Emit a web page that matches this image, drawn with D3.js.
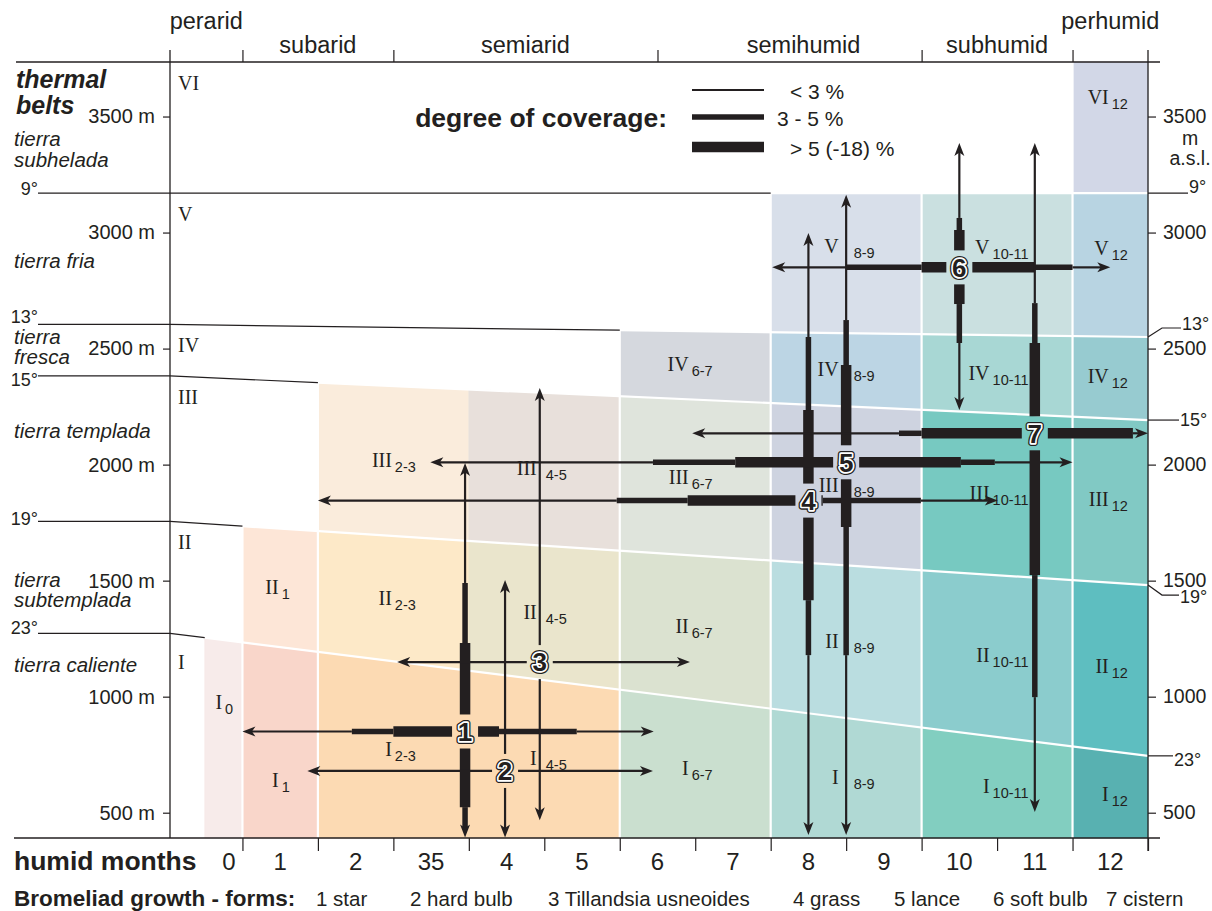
<!DOCTYPE html>
<html>
<head>
<meta charset="utf-8">
<script src="https://cdn.jsdelivr.net/npm/d3@7"></script>
<style>
  body { margin: 0; background: #fff; }
  svg { display: block; }
</style>
</head>
<body>
<div id="chart"></div>
<script>
// thermal belts x humid months, with the ranges of the bromeliad growth forms

// humid months (x)
const monthTicks = ['0', '1', '2', '35', '4', '5', '6', '7', '8', '9', '10', '11', '12'];
const humidClasses = ['perarid', 'subarid', 'semiarid', 'semihumid', 'subhumid', 'perhumid'];
const humidFrom = [-0.46, 0.5, 2.5, 6, 9.5, 11.5];
const humidTo = [0.5, 2.5, 6, 9.5, 11.5, 12.5];

// elevation (y), m a.s.l.
const elevTicks = [500, 1000, 1500, 2000, 2500, 3000, 3500];

// thermal belts, bottom to top
const belts = ['I', 'II', 'III', 'IV', 'V', 'VI'];
const beltNames = [['tierra caliente'], ['tierra', 'subtemplada'], ['tierra templada'], ['tierra', 'fresca'], ['tierra fria'], ['tierra', 'subhelada']];
const beltNameElev = [1106, 1473, 2115, 2520, 2847, 3373];

// isotherm limits between belts: elevation at left and right edge
const limitDeg = ['23°', '19°', '15°', '13°', '9°'];
const limitLeft = [1273, 1755, 2382, 2604, 3170];
const limitRight = [745, 1481, 2192, 2550, 3170];

// humid-month groups of the cells
const groups = ['0', '1', '2-3', '4-5', '6-7', '8-9', '10-11', '12'];
const groupFrom = [0, 0.5, 1.5, 3.5, 5.5, 7.5, 9.5, 11.5];
const groupTo = [0.5, 1.5, 3.5, 5.5, 7.5, 9.5, 11.5, 12.5];

// cell fill per belt (row) and group (column), null = no cell
const cellColors = [
  ['#f7ebea', '#f9d6ca', '#fcdab3', '#fcdab3', '#cadfcf', '#b0d9d4', '#82cec0', '#58b1b1'],
  [null, '#fde6d7', '#fde9c8', '#eae5cc', '#dbe2d0', '#badde0', '#8bcccd', '#5ebec0'],
  [null, null, '#faecdc', '#e8e0db', '#dfe4dc', '#ced3e0', '#77c9c1', '#81c9c4'],
  [null, null, null, null, '#d5d8de', '#bcd5e4', '#a8d7d4', '#97cbd0'],
  [null, null, null, null, null, '#d8dfea', '#cae0e0', '#b8d4e2'],
  [null, null, null, null, null, null, null, '#d2d7e7']
];

// degree of coverage classes
const coverage = ['< 3 %', '3 - 5 %', '> 5 (-18) %'];

// bromeliad growth forms
const forms = ['star', 'hard bulb', 'Tillandsia usneoides', 'grass', 'lance', 'soft bulb', 'cistern'];
const formMonth = [3.45, 3.98, 4.44, 8.0, 8.5, 10.0, 11.0];   // where the vertical range sits
const formElev = [850, 680, 1149, 1845, 2010, 2850, 2135];    // where the horizontal range sits
// [from, to, coverage class]
const formMonthRanges = [
  [[0.5, 1.95, 0], [1.95, 2.5, 1], [2.5, 3.9, 2], [3.9, 4.93, 1], [4.93, 5.95, 0]],
  [[1.36, 5.94, 0]],
  [[2.55, 6.43, 0]],
  [[1.5, 5.46, 0], [5.46, 6.4, 1], [6.4, 8.19, 2], [8.19, 9.49, 1], [9.49, 10.51, 0]],
  [[2.99, 5.94, 0], [5.94, 7.03, 1], [7.03, 10.02, 2], [10.02, 10.47, 1], [10.47, 11.5, 0]],
  [[7.52, 8.5, 0], [8.5, 9.5, 1], [9.5, 11, 2], [11, 11.5, 1], [11.5, 12, 0]],
  [[6.46, 9.2, 0], [9.2, 9.5, 1], [9.5, 12.3, 2], [12.3, 12.5, 0]]
];
const formElevRanges = [
  [[393, 524, 1], [524, 1231, 2], [1231, 1490, 1], [1490, 2007, 0]],
  [[393, 1503, 0]],
  [[468, 2330, 0]],
  [[404, 1179, 0], [1179, 1416, 1], [1416, 2235, 2], [2235, 2550, 1], [2550, 2998, 0]],
  [[404, 1179, 0], [1179, 1731, 1], [1731, 2429, 2], [2429, 2623, 1], [2623, 3163, 0]],
  [[2235, 2524, 0], [2524, 2692, 1], [2692, 3011, 2], [3011, 3063, 1], [3063, 3386, 0]],
  [[503, 998, 0], [998, 1524, 1], [1524, 2524, 2], [2524, 2696, 1], [2696, 3386, 0]]
];

const W = 1212, H = 911;
const DARK = '#231f20';
const SANS = '"Liberation Sans", Arial, sans-serif';
const SERIF = '"Liberation Serif", "Times New Roman", serif';

const svg = d3.select('#chart').append('svg').attr('width', W).attr('height', H)
  .attr('font-family', SANS);

const x = d3.scaleLinear().domain([-0.46, 12.5]).range([170, 1148]);
const y = d3.scaleLinear().domain([391, 3735]).range([838, 62]);
const [M0, M1] = x.domain();
const [E0, E1] = y.domain();

const limitAt = (k, m) => limitLeft[k] + (limitRight[k] - limitLeft[k]) * (m - M0) / (M1 - M0);
const bottomAt = (b, m) => b === 0 ? E0 : limitAt(b - 1, m);
const topAt = (b, m) => b === belts.length - 1 ? E1 : limitAt(b, m);

// ---- cells
const cells = [];
cellColors.forEach((row, b) => row.forEach((c, g) => { if (c) cells.push({ b, g, c }); }));

svg.append('g').selectAll('path').data(cells).join('path')
  .attr('d', d => {
    const m0 = groupFrom[d.g], m1 = groupTo[d.g];
    return `M${x(m0)},${y(bottomAt(d.b, m0))}L${x(m1)},${y(bottomAt(d.b, m1))}` +
      `L${x(m1)},${y(topAt(d.b, m1))}L${x(m0)},${y(topAt(d.b, m0))}Z`;
  })
  .attr('fill', d => d.c).attr('stroke', d => d.c).attr('stroke-width', 0.6);

// white separators between column groups (none between 2-3 and 4-5)
const sepG = svg.append('g').attr('stroke', '#fff').attr('stroke-width', 2.2);
groups.forEach((gname, g) => {
  if (g === 0 || groupFrom[g] === 3.5) return;
  const m = groupFrom[g];
  const nb = cellColors.filter(r => r[g]).length;
  sepG.append('line').attr('x1', x(m)).attr('x2', x(m))
    .attr('y1', y(E0)).attr('y2', y(topAt(nb - 1, m)));
});

// isotherm lines: white over the cells, black over the white part
const limG = svg.append('g').attr('fill', 'none');
const leftLabDy = [1, 4, 10, -1, 2];
limitDeg.forEach((deg, k) => {
  const start = groupFrom[cellColors[k].findIndex(c => c)];
  limG.append('line').attr('stroke', '#fff').attr('stroke-width', 2.2)
    .attr('x1', x(start)).attr('y1', y(limitAt(k, start)))
    .attr('x2', x(M1)).attr('y2', y(limitAt(k, M1)));
  limG.append('path').attr('stroke', DARK).attr('stroke-width', 1.2)
    .attr('d', `M38,${y(limitLeft[k])}H${x(M0)}L${x(start)},${y(limitAt(k, start))}`);
  svg.append('text').attr('x', 38).attr('y', y(limitLeft[k]) + leftLabDy[k])
    .attr('text-anchor', 'end').attr('font-size', 18).attr('fill', DARK).text(deg);
});

// right side isotherm leaders
const rightBend = [0, 10, 0, -9, 0];
const rightEnd = [1173, 1179, 1179, 1181, 1188];
const rightLabDy = [10, 8, 6, 2, 0];
limitDeg.forEach((deg, k) => {
  const yr = y(limitRight[k]);
  const yb = yr + rightBend[k];
  const bendX = rightBend[k] === 0 ? 1148 : 1162;
  limG.append('path').attr('stroke', DARK).attr('stroke-width', 1.2)
    .attr('d', `M1148,${yr}L${bendX},${yb}H${rightEnd[k]}`);
  svg.append('text').attr('x', rightEnd[k] + 1).attr('y', yb + rightLabDy[k])
    .attr('font-size', 18).attr('fill', DARK).text(deg);
});

// ---- axes
const axG = svg.append('g').attr('stroke', DARK).attr('stroke-width', 1.3);
axG.append('line').attr('x1', 16).attr('x2', 1160).attr('y1', y(E1)).attr('y2', y(E1));
axG.append('line').attr('x1', 14).attr('x2', 1160).attr('y1', y(E0)).attr('y2', y(E0));
axG.append('line').attr('x1', x(M0)).attr('x2', x(M0)).attr('y1', 50).attr('y2', y(E0));
axG.append('line').attr('x1', x(M1)).attr('x2', x(M1)).attr('y1', 50).attr('y2', 851);

const styleAxis = g => {
  g.select('.domain').remove();
  g.selectAll('line').attr('stroke', DARK).attr('stroke-width', 1.2);
  g.selectAll('text').attr('fill', DARK).attr('font-family', SANS);
};

svg.append('g').attr('transform', `translate(${x(M0)},0)`)
  .call(d3.axisLeft(y).tickValues(elevTicks).tickSize(7).tickPadding(8).tickFormat(d => d + ' m'))
  .call(styleAxis)
  .call(g => g.selectAll('text').attr('font-size', 20));

svg.append('g').attr('transform', `translate(${x(M1)},0)`)
  .call(d3.axisRight(y).tickValues(elevTicks).tickSize(8).tickPadding(7).tickFormat(d => d))
  .call(styleAxis)
  .call(g => g.selectAll('text').attr('font-size', 19.5));
[['m', 22], ['a.s.l.', 42]].forEach(([t, dy]) => {
  svg.append('text').attr('x', 1190).attr('y', y(3500) + 6 + dy).attr('text-anchor', 'middle')
    .attr('font-size', 19.5).attr('fill', DARK).text(t);
});

svg.append('g').attr('transform', `translate(0,${y(E0)})`)
  .call(d3.axisBottom(x).tickValues(d3.range(0.5, 13, 1)).tickSize(13).tickFormat(''))
  .call(styleAxis);

svg.append('g').attr('transform', `translate(0,${y(E1)})`)
  .call(d3.axisTop(x).tickValues(humidFrom.slice(1)).tickSize(12).tickFormat(''))
  .call(styleAxis);

// humidity classes on top
svg.append('g').attr('font-size', 23.5).attr('fill', DARK).attr('text-anchor', 'middle')
  .selectAll('text').data(humidClasses).join('text')
  .attr('x', (d, i) => x((humidFrom[i] + humidTo[i]) / 2) + (i === 3 ? 14 : 0))
  .attr('y', (d, i) => (i === 0 || i === humidClasses.length - 1) ? 29 : 53)
  .text(d => d);

// humid month labels
svg.append('text').attr('x', 14).attr('y', 870).attr('font-size', 26.5).attr('font-weight', 'bold')
  .attr('fill', DARK).text('humid months');
svg.append('g').attr('font-size', 24).attr('fill', DARK).attr('text-anchor', 'middle')
  .selectAll('text').data(monthTicks).join('text')
  .attr('x', (d, i) => x(i === 0 ? 0.32 : i)).attr('y', 870).text(d => d);

// thermal belts on the left
svg.append('g').attr('font-size', 25).attr('font-weight', 'bold').attr('font-style', 'italic').attr('fill', DARK)
  .selectAll('text').data(['thermal', 'belts']).join('text')
  .attr('x', 16).attr('y', (d, i) => 88 + i * 26).text(d => d);

const nameG = svg.append('g').attr('font-size', 20.5).attr('font-style', 'italic').attr('fill', DARK);
beltNames.forEach((lines, b) => {
  lines.forEach((t, j) => {
    nameG.append('text').attr('x', 14).attr('y', y(beltNameElev[b]) + j * 20.5).text(t);
  });
});

svg.append('g').attr('font-family', SERIF).attr('font-size', 20).attr('fill', DARK)
  .selectAll('text').data(belts).join('text')
  .attr('x', 178).attr('y', (d, b) => y(topAt(b, M0)) + (b === 0 ? 36 : 28)).text(d => d);

// cell labels: roman numeral + subscript group
const labelSplit = { '4-5': [-3, 4.5], '6-7': [-5, 1.5], '8-9': [0, 7.5], '10-11': [-6, 1.5] };
const beltDy = [6, 6, 6, 6, -10, -24];
const cellDy = { '0-0': -36, '0-1': 38 };
const cellLabG = svg.append('g').attr('fill', DARK);
cells.forEach(d => {
  const mc = (groupFrom[d.g] + groupTo[d.g]) / 2;
  const cy = (y(bottomAt(d.b, mc)) + y(topAt(d.b, mc))) / 2 + beltDy[d.b] + (cellDy[`${d.b}-${d.g}`] || 0);
  const [off, gap] = labelSplit[groups[d.g]] || [0, 1.5];
  const cx = x(mc) + off;
  cellLabG.append('text').attr('x', cx - gap).attr('y', cy).attr('text-anchor', 'end')
    .attr('font-family', SERIF).attr('font-size', 20).text(belts[d.b]);
  cellLabG.append('text').attr('x', cx + gap).attr('y', cy + 5)
    .attr('font-size', 14.5).text(groups[d.g]);
});

// ---- growth form ranges
const coverWidth = [2.2, 5.5, 10.5];
const head = 'M0,0L-13,-5L-9.5,0L-13,5Z';
const inset = 9;

const mask = svg.append('defs').append('mask').attr('id', 'gaps')
  .attr('maskUnits', 'userSpaceOnUse').attr('x', 0).attr('y', 0).attr('width', W).attr('height', H);
mask.append('rect').attr('width', W).attr('height', H).attr('fill', '#fff');
mask.selectAll('.gap').data(forms).join('rect').attr('class', 'gap')
  .attr('x', (d, i) => x(formMonth[i]) - 13).attr('y', (d, i) => y(formElev[i]) - 17)
  .attr('width', 26).attr('height', 34).attr('fill', '#000');

const arrowG = svg.append('g').attr('mask', 'url(#gaps)').attr('stroke', DARK);
const headG = svg.append('g').attr('fill', DARK);

forms.forEach((f, i) => {
  const cx = x(formMonth[i]), cy = y(formElev[i]);
  const hr = formMonthRanges[i];
  hr.forEach((s, j) => {
    let x1 = x(s[0]), x2 = x(s[1]);
    if (j === 0) x1 += inset;
    if (j === hr.length - 1) x2 -= inset;
    arrowG.append('line').attr('x1', x1).attr('x2', x2).attr('y1', cy).attr('y2', cy)
      .attr('stroke-width', coverWidth[s[2]]);
  });
  headG.append('path').attr('d', head).attr('transform', `translate(${x(hr[0][0])},${cy}) rotate(180)`);
  headG.append('path').attr('d', head).attr('transform', `translate(${x(hr[hr.length - 1][1])},${cy})`);

  const vr = formElevRanges[i];
  vr.forEach((s, j) => {
    let y1 = y(s[0]), y2 = y(s[1]);
    if (j === 0) y1 -= inset;
    if (j === vr.length - 1) y2 += inset;
    arrowG.append('line').attr('x1', cx).attr('x2', cx).attr('y1', y1).attr('y2', y2)
      .attr('stroke-width', coverWidth[s[2]]);
  });
  headG.append('path').attr('d', head).attr('transform', `translate(${cx},${y(vr[0][0])}) rotate(90)`);
  headG.append('path').attr('d', head).attr('transform', `translate(${cx},${y(vr[vr.length - 1][1])}) rotate(-90)`);
});

// numbers in the crosses
const numG = svg.append('g').attr('font-weight', 'bold').attr('font-size', 26).attr('text-anchor', 'middle');
forms.forEach((f, i) => {
  const cx = x(formMonth[i]), cy = y(formElev[i]);
  numG.append('text').attr('x', cx).attr('y', cy).attr('dy', '0.36em').text(i + 1)
    .attr('fill', DARK).attr('stroke', DARK).attr('stroke-width', 6).attr('stroke-linejoin', 'round');
  numG.append('text').attr('x', cx).attr('y', cy).attr('dy', '0.36em').text(i + 1)
    .attr('fill', DARK).attr('stroke', '#fff').attr('stroke-width', 3.4)
    .attr('stroke-linejoin', 'round').attr('paint-order', 'stroke');
});

// ---- legend: degree of coverage
svg.append('text').attr('x', 667).attr('y', 127).attr('text-anchor', 'end')
  .attr('font-size', 26.5).attr('font-weight', 'bold').attr('fill', DARK).text('degree of coverage:');
const legY = [90, 117, 147];
const legTextX = [790, 777, 790];
coverage.forEach((c, i) => {
  svg.append('line').attr('x1', 692).attr('x2', 764).attr('y1', legY[i]).attr('y2', legY[i])
    .attr('stroke', DARK).attr('stroke-width', coverWidth[i]);
  svg.append('text').attr('x', legTextX[i]).attr('y', legY[i] + 9)
    .attr('font-size', 21).attr('fill', DARK).text(c);
});

// ---- growth forms list
svg.append('text').attr('x', 14).attr('y', 906).attr('font-size', 22.5).attr('font-weight', 'bold')
  .attr('fill', DARK).text('Bromeliad growth - forms:');
const formX = [316, 410, 548, 793, 894, 993, 1106];
svg.append('g').attr('font-size', 20.5).attr('fill', DARK)
  .selectAll('text').data(forms).join('text')
  .attr('x', (d, i) => formX[i]).attr('y', 906).text((d, i) => `${i + 1} ${d}`);
</script>
</body>
</html>
